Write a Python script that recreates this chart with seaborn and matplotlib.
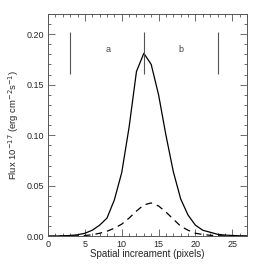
import matplotlib
matplotlib.use("Agg")
import matplotlib.pyplot as plt
from matplotlib.ticker import MultipleLocator
import seaborn as sns
import pandas as pd

# spatial increment (pixels)
pixels = list(range(0, 28))
# total flux (solid)
flux_total = [0.0002, 0.0003, 0.0005, 0.0008, 0.0015, 0.003, 0.006, 0.011,
              0.018, 0.036, 0.063, 0.108, 0.163, 0.181, 0.170, 0.140,
              0.100, 0.064, 0.037, 0.021, 0.011, 0.006, 0.004, 0.002,
              0.0012, 0.0008, 0.0005, 0.0003]
# component flux (dashed)
flux_comp = [0.0, 0.0, 0.0001, 0.0002, 0.0004, 0.0008, 0.0015, 0.003,
             0.005, 0.008, 0.012, 0.018, 0.025, 0.031, 0.033, 0.030,
             0.024, 0.017, 0.010, 0.006, 0.003, 0.0018, 0.001, 0.0006,
             0.0003, 0.0002, 0.0001, 0.0]
# region boundaries and labels
bounds = [3, 13, 23]
region_x = [8.2, 18]
region_lab = ["a", "b"]

df = pd.DataFrame({"x": pixels, "total": flux_total, "comp": flux_comp})

sns.set_style("ticks")
plt.rcParams["font.family"] = ["Liberation Sans", "DejaVu Sans"]

fig, ax = plt.subplots(figsize=(2.67, 2.67), dpi=100)
sns.lineplot(data=df, x="x", y="total", ax=ax, color="black", lw=0.9)
sns.lineplot(data=df, x="x", y="comp", ax=ax, color="black", lw=0.9,
             linestyle=(0, (5.5, 4)))
ax.vlines(bounds, 0.161, 0.2025, color="#555555", lw=0.8)
for xx, lab in zip(region_x, region_lab):
    ax.text(xx, 0.185, lab, fontsize=6.5, ha="center", va="center", color="#444444")

ax.set_xlim(0, 27)
ax.set_ylim(0, 0.22)
ax.xaxis.set_major_locator(MultipleLocator(5))
ax.xaxis.set_minor_locator(MultipleLocator(1))
ax.yaxis.set_major_locator(MultipleLocator(0.05))
ax.yaxis.set_minor_locator(MultipleLocator(0.01))
ax.yaxis.set_major_formatter(matplotlib.ticker.FormatStrFormatter("%.2f"))
ax.tick_params(which="both", direction="in", top=True, right=True,
               labelsize=6.5, color="#555555", width=0.6, pad=3)
ax.tick_params(which="major", length=5)
ax.tick_params(which="minor", length=2.5)
for s in ax.spines.values():
    s.set_color("#555555")
    s.set_linewidth(0.7)
ax.set_xlabel("Spatial increament (pixels)", fontsize=7, labelpad=0)
ax.set_ylabel("Flux 10$^{-17}$ (erg cm$^{-2}$s$^{-1}$)", fontsize=6.8, labelpad=4)

fig.subplots_adjust(left=0.18, right=0.925, bottom=0.115, top=0.948)
fig.savefig("out.png", dpi=100)
